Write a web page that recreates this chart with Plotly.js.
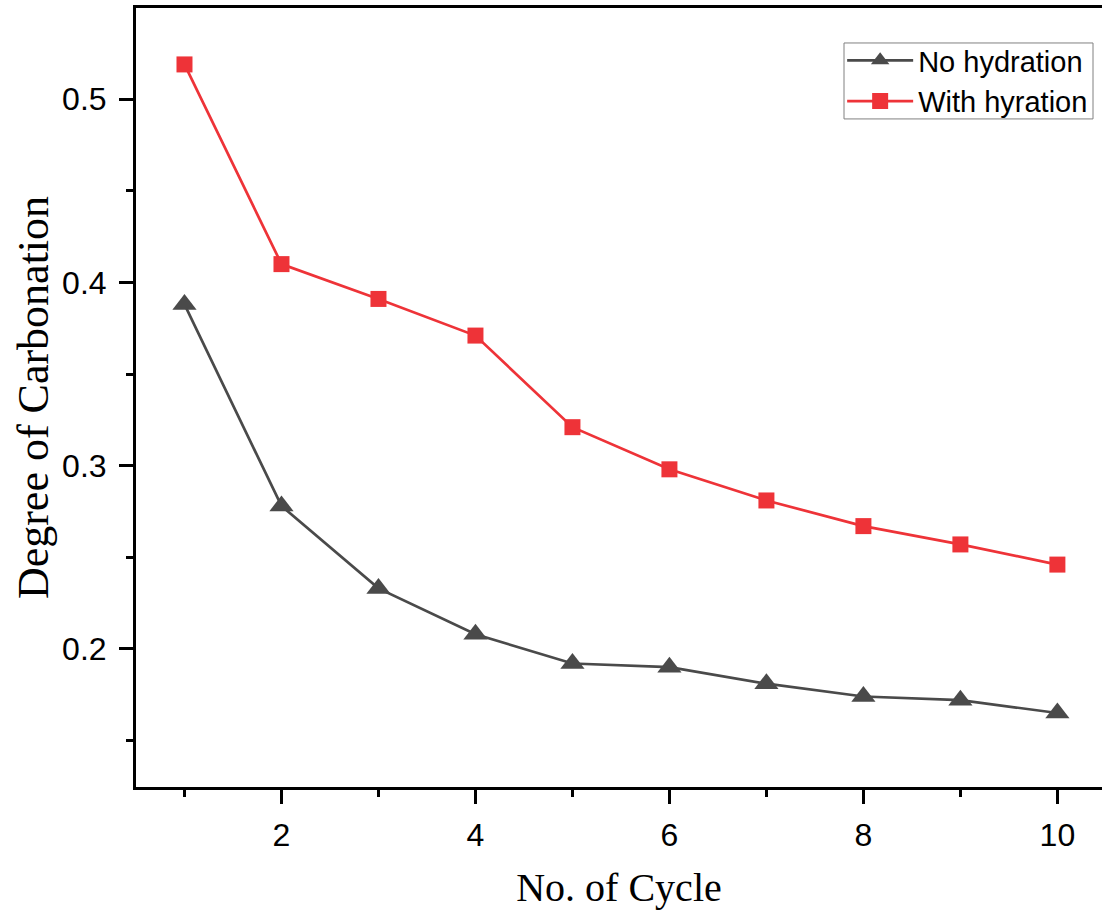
<!DOCTYPE html>
<html>
<head>
<meta charset="utf-8">
<script src="https://cdn.plot.ly/plotly-3.0.1.min.js"></script>
<style>html,body{margin:0;padding:0;background:#fff;overflow:hidden;}</style>
</head>
<body>
<div id="chart" style="width:1102px;height:912px;"></div>
<script>
const cycles = [1, 2, 3, 4, 5, 6, 7, 8, 9, 10];
const noHydration = [0.388, 0.278, 0.233, 0.208, 0.192, 0.190, 0.181, 0.174, 0.172, 0.165];
const withHydration = [0.519, 0.410, 0.391, 0.371, 0.321, 0.298, 0.281, 0.267, 0.257, 0.246];
const seriesNames = ["No hydration", "With hyration"];
const xTitle = "No. of Cycle";
const yTitle = "Degree of Carbonation";

const traces = [
  {
    x: cycles, y: noHydration, name: seriesNames[0], type: "scatter", mode: "lines+markers",
    line: {color: "#4a4a4a", width: 2.7},
    marker: {symbol: "triangle-up", size: 21, color: "#4a4a4a"}
  },
  {
    x: cycles, y: withHydration, name: seriesNames[1], type: "scatter", mode: "lines+markers",
    line: {color: "#ee3338", width: 2.7},
    marker: {symbol: "square", size: 16, color: "#ee3338"}
  }
];

const plotL = 136, plotR = 1102, plotT = 8, plotB = 787.5;
const px2x = p => (p - plotL) / (plotR - plotL);
const px2y = p => (plotB - p) / (plotB - plotT);

const layout = {
  width: 1102, height: 912,
  margin: {l: 136, r: 0, t: 8, b: 125},
  paper_bgcolor: "#fff", plot_bgcolor: "#fff",
  showlegend: true,
  legend: {
    x: 0.731, y: px2y(35), xanchor: "left", yanchor: "top",
    bgcolor: "rgba(0,0,0,0)", borderwidth: 0,
    font: {family: "Liberation Sans, Arial, sans-serif", size: 29, color: "#000"},
    tracegroupgap: 0, itemwidth: 66
  },
  shapes: [{
    type: "rect", xref: "paper", yref: "paper",
    x0: px2x(844), x1: px2x(1093), y0: px2y(119), y1: px2y(43),
    line: {color: "#808080", width: 1}, fillcolor: "#fff", layer: "above"
  }],
  xaxis: {
    range: [0.5, 10.46], showgrid: false, zeroline: false,
    showline: true, linecolor: "#000", linewidth: 3, mirror: true,
    ticks: "outside", ticklen: 14, tickwidth: 3, tickcolor: "#000",
    tick0: 0, dtick: 2,
    minor: {dtick: 1, tick0: 0, ticks: "outside", ticklen: 7, tickwidth: 3, tickcolor: "#000", showgrid: false},
    tickfont: {family: "Liberation Sans, Arial, sans-serif", size: 32, color: "#000"},
    ticklabelstandoff: 4,
    title: {text: xTitle, font: {family: "Liberation Serif, Times New Roman, serif", size: 40, color: "#000"}, standoff: 21}
  },
  yaxis: {
    range: [0.1246, 0.5498], showgrid: false, zeroline: false,
    showline: true, linecolor: "#000", linewidth: 3, mirror: false,
    ticks: "outside", ticklen: 14, tickwidth: 3, tickcolor: "#000",
    tick0: 0, dtick: 0.1, tickformat: ".1f",
    minor: {dtick: 0.05, tick0: 0, ticks: "outside", ticklen: 7, tickwidth: 3, tickcolor: "#000", showgrid: false},
    tickfont: {family: "Liberation Sans, Arial, sans-serif", size: 32, color: "#000"},
    ticklabelstandoff: 6,
    title: {text: yTitle, font: {family: "Liberation Serif, Times New Roman, serif", size: 44, color: "#000"}, standoff: 0}
  }
};

Plotly.newPlot("chart", traces, layout, {displayModeBar: false, staticPlot: true});
</script>
</body>
</html>
